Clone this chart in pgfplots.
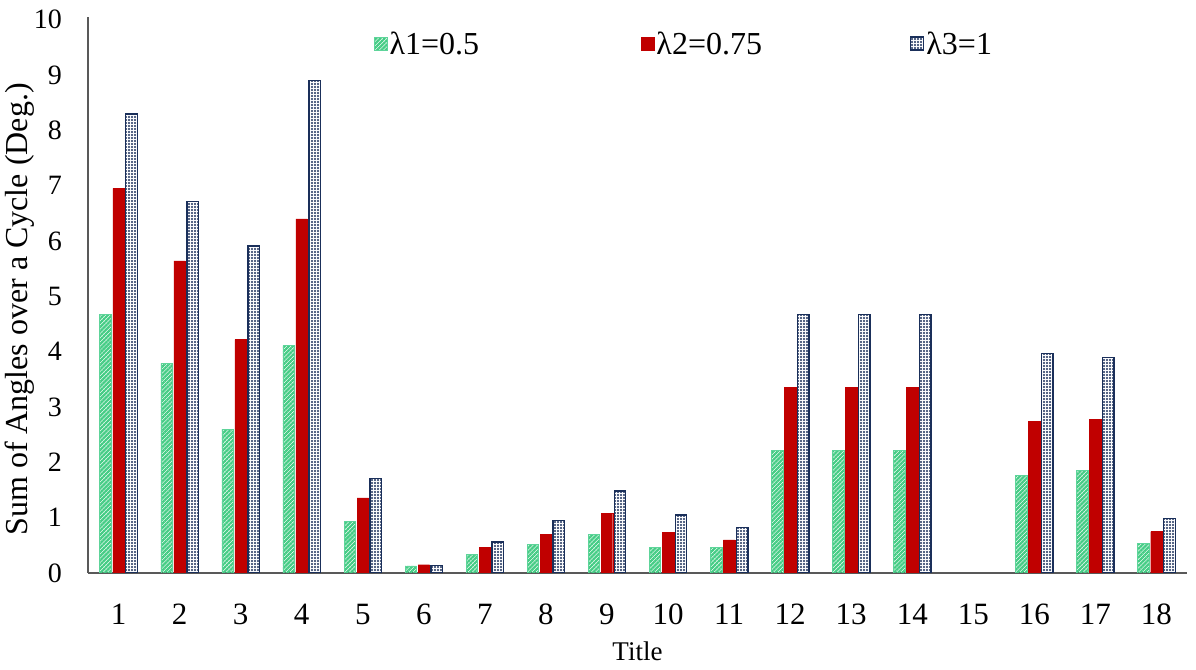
\documentclass[border=0pt]{standalone}
\usepackage{fontspec}
\setmainfont{Liberation Serif}
\usepackage{pgfplots}
\pgfplotsset{compat=1.18}
\usetikzlibrary{patterns.meta}
\definecolor{gr}{HTML}{45CC85}
\definecolor{grb}{HTML}{5ED49A}
\definecolor{rd}{HTML}{C00000}
\definecolor{nv}{HTML}{1A2F5A}
\definecolor{axc}{HTML}{595959}
\begin{document}
\begin{tikzpicture}
\useasboundingbox (0,0) rectangle (1196pt,669pt);
\begin{axis}[
  at={(88pt,96pt)}, anchor=origin,
  scale only axis, width=1099pt, height=556pt,
  xmin=0.5, xmax=18.5, ymin=0, ymax=10.05,
  axis x line=bottom, axis y line=left,
  axis line style={-, draw=axc, line width=1.2pt},
  ybar=1.5pt, bar width=11.5pt,
  xtick={1,...,18}, ytick={0,1,...,10},
  major tick length=0pt,
  /pgf/number format/assume math mode=true,
  xticklabel style={font=\rmfamily\fontsize{31}{31}\selectfont, anchor=base},
  xticklabel shift=51pt,
  yticklabel style={font=\rmfamily\fontsize{28}{28}\selectfont, anchor=east, inner sep=0pt},
  yticklabel shift=26pt,
  xlabel={Title},
  xlabel style={font=\rmfamily\fontsize{27}{27}\selectfont, at={(axis description cs:0.5,-0.1565)}, anchor=base},
  ylabel={Sum of Angles over a Cycle (Deg.)},
  ylabel style={font=\rmfamily\fontsize{32}{32}\selectfont, at={(axis description cs:-0.0546,0.474)}, anchor=base, rotate=0},
  legend columns=3,
  legend style={draw=none, fill=none, font=\rmfamily\fontsize{32}{32}\selectfont,
    at={(axis description cs:0.26,0.952)}, anchor=west, inner sep=0pt,
    /tikz/every even column/.append style={column sep=146pt}},
  legend image code/.code={\draw[#1] (0pt,-6.5pt) rectangle (13pt,6.5pt);},
]
\addplot[draw=grb, line width=0.6pt, pattern={Lines[angle=45,distance=3pt,line width=2.3pt]}, pattern color=gr]
coordinates {(1,4.67) (2,3.79) (3,2.60) (4,4.12) (5,0.93) (6,0.13) (7,0.33) (8,0.51) (9,0.70) (10,0.46) (11,0.46) (12,2.22) (13,2.22) (14,2.22) (16,1.77) (17,1.85) (18,0.54)};
\addplot[draw=rd, fill=rd]
coordinates {(1,6.95) (2,5.64) (3,4.22) (4,6.40) (5,1.36) (6,0.15) (7,0.46) (8,0.70) (9,1.08) (10,0.73) (11,0.60) (12,3.36) (13,3.36) (14,3.36) (16,2.74) (17,2.78) (18,0.75)};
\addplot[draw=nv, line width=1.4pt, fill=white, postaction={pattern={Dots[radius=1.1pt,distance=3pt]}, pattern color=nv}]
coordinates {(1,8.30) (2,6.71) (3,5.91) (4,8.90) (5,1.71) (6,0.14) (7,0.56) (8,0.95) (9,1.48) (10,1.05) (11,0.82) (12,4.67) (13,4.67) (14,4.67) (16,3.97) (17,3.89) (18,0.99)};
\legend{λ1=0.5\rule{14pt}{0pt}, λ2=0.75, λ3=1}
\end{axis}
\end{tikzpicture}
\end{document}
